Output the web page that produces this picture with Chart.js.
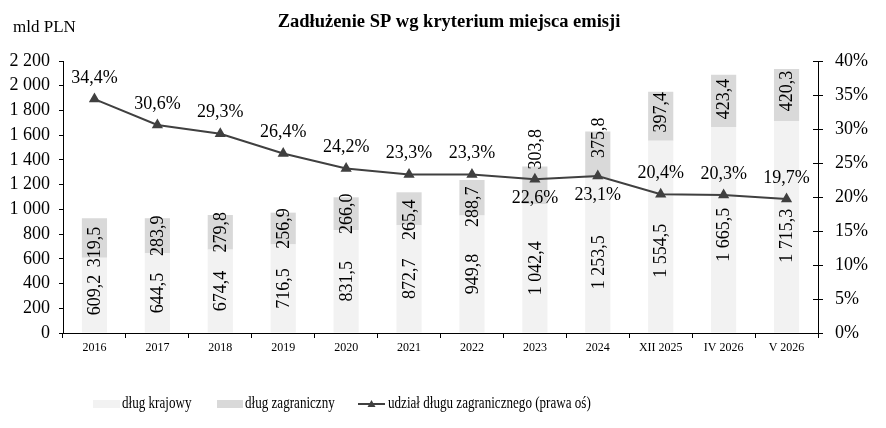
<!DOCTYPE html>
<html>
<head>
<meta charset="utf-8">
<script src="https://cdn.jsdelivr.net/npm/chart.js@4.4.1/dist/chart.umd.min.js"></script>
<style>
  html, body { margin: 0; padding: 0; background: #fff; }
  #wrap { width: 886px; height: 428px; position: relative; }
</style>
</head>
<body>
<div id="wrap"><canvas id="debtChart"></canvas></div>
<script>
// Dane
const categories = ['2016', '2017', '2018', '2019', '2020', '2021', '2022', '2023', '2024', 'XII 2025', 'IV 2026', 'V 2026'];
const domesticDebt = [609.2, 644.5, 674.4, 716.5, 831.5, 872.7, 949.8, 1042.4, 1253.5, 1554.5, 1665.5, 1715.3];
const foreignDebt = [319.5, 283.9, 279.8, 256.9, 266.0, 265.4, 288.7, 303.8, 375.8, 397.4, 423.4, 420.3];
const foreignShare = [34.4, 30.6, 29.3, 26.4, 24.2, 23.3, 23.3, 22.6, 23.1, 20.4, 20.3, 19.7];

// etykiety procentowe pod punktem dla 2023 i 2024
const shareLabelBelow = [false, false, false, false, false, false, false, true, true, false, false, false];
// przesuniecia etykiet slupkow (px), zeby nie wchodzily na linie
const domesticLabelShift = [0, 0, 0, 0, 0, 0, 0, 0, 7, 14, 5, 9];
const foreignLabelShift = [9, 0, 0, 0, 0, 11, 9, -36, -17, -4, -2, -4];

const SERIF = "'Liberation Serif', 'Times New Roman', serif";
Chart.defaults.font.family = SERIF;
Chart.defaults.color = '#000';

function plNum(v, dec) {
  let s = v.toFixed(dec).replace('.', ',');
  let parts = s.split(',');
  parts[0] = parts[0].replace(/\B(?=(\d{3})+(?!\d))/g, ' ');
  return parts.join(',');
}

// etykiety wartosci + tytul + legenda
const labelsPlugin = {
  id: 'labelsPlugin',
  afterDatasetsDraw(chart) {
    const ctx = chart.ctx;
    ctx.save();
    ctx.fillStyle = '#000';
    ctx.font = '18px ' + SERIF;
    ctx.textAlign = 'center';
    ctx.textBaseline = 'middle';
    const shifts = [domesticLabelShift, foreignLabelShift];
    [0, 1].forEach(di => {
      const meta = chart.getDatasetMeta(di);
      const vals = chart.data.datasets[di].data;
      meta.data.forEach((bar, i) => {
        const cy = (bar.y + bar.base) / 2 + shifts[di][i];
        ctx.save();
        ctx.translate(bar.x, cy);
        ctx.rotate(-Math.PI / 2);
        ctx.fillText(plNum(vals[i], 1), 0, 1);
        ctx.restore();
      });
    });
    const lineMeta = chart.getDatasetMeta(2);
    lineMeta.data.forEach((pt, i) => {
      const dy = shareLabelBelow[i] ? 19 : -21;
      ctx.fillText(plNum(foreignShare[i], 1) + '%', pt.x, pt.y + dy);
    });
    ctx.restore();
  },
  afterDraw(chart) {
    const ctx = chart.ctx;
    ctx.save();
    ctx.fillStyle = '#000';
    ctx.textBaseline = 'middle';
    ctx.textAlign = 'center';
    ctx.font = 'bold 18.5px ' + SERIF;
    ctx.fillText('Zadłużenie SP wg kryterium miejsca emisji', 449, 22);
    ctx.textAlign = 'left';
    ctx.font = '17px ' + SERIF;
    ctx.fillText('mld PLN', 13, 28);

    // prawa os - kreski przechodza na druga strone osi
    const ax = chart.scales.y1;
    ctx.strokeStyle = '#000';
    ctx.lineWidth = 1;
    ax.ticks.forEach(t => {
      const py = Math.round(ax.getPixelForValue(t.value)) + 0.5;
      ctx.beginPath();
      ctx.moveTo(ax.left - 5, py);
      ctx.lineTo(ax.left, py);
      ctx.stroke();
    });

    // legenda
    const ly = 404;
    ctx.fillStyle = '#F2F2F2';
    ctx.fillRect(93, ly - 4, 27, 8);
    ctx.fillStyle = '#D9D9D9';
    ctx.fillRect(217, ly - 4, 26, 8);
    ctx.strokeStyle = '#404040';
    ctx.lineWidth = 2;
    ctx.beginPath();
    ctx.moveTo(358, ly);
    ctx.lineTo(385, ly);
    ctx.stroke();
    ctx.fillStyle = '#404040';
    ctx.beginPath();
    ctx.moveTo(371.5, ly - 4);
    ctx.lineTo(375.5, ly + 3);
    ctx.lineTo(367.5, ly + 3);
    ctx.closePath();
    ctx.fill();
    ctx.fillStyle = '#000';
    ctx.font = '17px ' + SERIF;
    // legenda w oryginale jest wezsza - sciesnienie w poziomie
    const squeeze = 0.77;
    [['dług krajowy', 122], ['dług zagraniczny', 245], ['udział długu zagranicznego (prawa oś)', 388]].forEach(([t, x]) => {
      ctx.save();
      ctx.translate(x, ly);
      ctx.scale(squeeze, 1);
      ctx.fillText(t, 0, 0);
      ctx.restore();
    });
    ctx.restore();
  }
};

const axisLine = { display: true, color: '#000', width: 1 };

const debtChart = new Chart(document.getElementById('debtChart'), {
  data: {
    labels: categories,
    datasets: [
      {
        type: 'bar',
        label: 'dług krajowy',
        data: domesticDebt,
        backgroundColor: '#F2F2F2',
        stack: 'debt',
        categoryPercentage: 1,
        barPercentage: 0.4,
        yAxisID: 'y',
        order: 2
      },
      {
        type: 'bar',
        label: 'dług zagraniczny',
        data: foreignDebt,
        backgroundColor: '#D9D9D9',
        stack: 'debt',
        categoryPercentage: 1,
        barPercentage: 0.4,
        yAxisID: 'y',
        order: 2
      },
      {
        type: 'line',
        label: 'udział długu zagranicznego (prawa oś)',
        data: foreignShare,
        borderColor: '#404040',
        backgroundColor: '#404040',
        borderWidth: 2,
        pointStyle: 'triangle',
        pointRadius: 4.5,
        pointHoverRadius: 4.5,
        tension: 0,
        yAxisID: 'y1',
        order: 1
      }
    ]
  },
  options: {
    responsive: true,
    maintainAspectRatio: false,
    animation: false,
    layout: { padding: { top: 61, left: 0, right: 0, bottom: 0 } },
    plugins: {
      legend: { display: false },
      title: { display: false },
      tooltip: { enabled: false }
    },
    scales: {
      x: {
        stacked: true,
        offset: true,
        grid: { display: true, drawOnChartArea: false, color: '#000', tickLength: 5, offset: true },
        border: axisLine,
        ticks: { font: { size: 12 }, padding: 3, maxRotation: 0, autoSkip: false },
        afterFit(scale) { scale.height = 95; }
      },
      y: {
        stacked: true,
        position: 'left',
        min: 0,
        max: 2200,
        grid: { display: true, drawOnChartArea: false, color: '#000', tickLength: 4 },
        border: axisLine,
        ticks: {
          stepSize: 200,
          padding: 9,
          font: { size: 18 },
          callback: v => plNum(v, 0)
        },
        afterFit(scale) { scale.width = 63; }
      },
      y1: {
        position: 'right',
        min: 0,
        max: 40,
        grid: { display: true, drawOnChartArea: false, color: '#000', tickLength: 5 },
        border: axisLine,
        ticks: {
          stepSize: 5,
          padding: 12,
          font: { size: 18 },
          callback: v => v + '%'
        },
        afterFit(scale) { scale.width = 68; }
      }
    }
  },
  plugins: [labelsPlugin]
});
</script>
</body>
</html>
